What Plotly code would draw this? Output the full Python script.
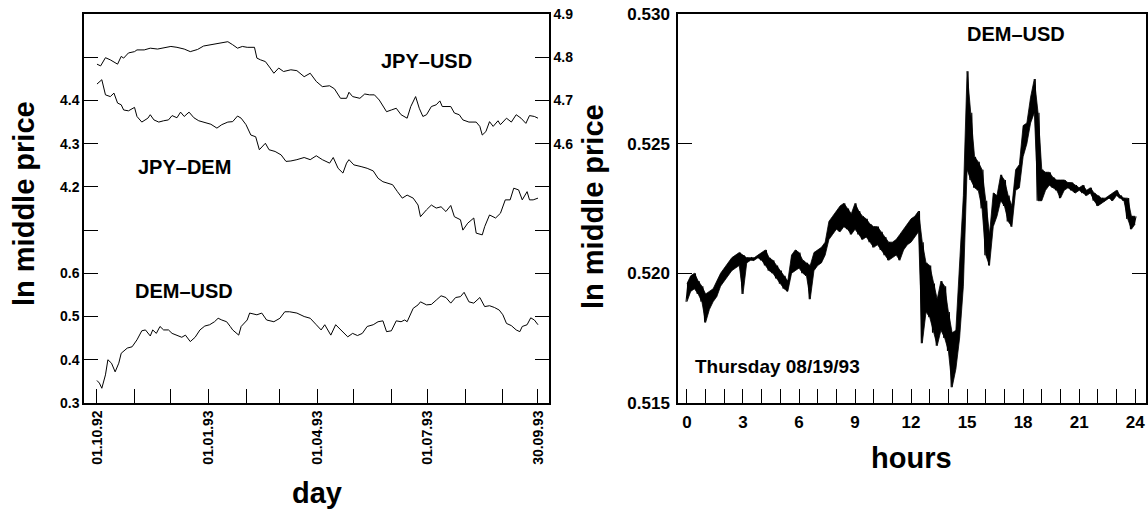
import plotly.graph_objects as go
import pandas as pd

# ---------------- Left panel data (daily series, sampled) ----------------
# days since 01.10.1992
usd_days = [0, 3, 7, 11, 17, 20, 22, 26, 31, 33, 39, 44, 50, 55, 61, 66, 72, 77, 83, 88, 94, 99,
            105, 108, 112, 116, 120, 124, 130, 132, 135, 139, 143, 146, 150, 154, 160, 165, 171,
            176, 181, 186, 192, 196, 201, 206, 208, 211, 217, 221, 225, 229, 233, 239, 243, 247,
            251, 256, 259, 263, 266, 269, 272, 276, 280, 283, 285, 289, 292, 295, 299, 302, 307,
            313, 316, 318, 321, 324, 327, 331, 333, 338, 342, 346, 350, 354, 357, 361, 364]
jpy_usd = [4.784, 4.780, 4.799, 4.794, 4.784, 4.802, 4.798, 4.810, 4.813, 4.817, 4.817, 4.821,
           4.819, 4.822, 4.825, 4.823, 4.819, 4.813, 4.818, 4.826, 4.829, 4.831, 4.835, 4.836,
           4.829, 4.821, 4.825, 4.823, 4.823, 4.798, 4.794, 4.790, 4.775, 4.763, 4.775, 4.767,
           4.771, 4.769, 4.755, 4.763, 4.744, 4.732, 4.734, 4.727, 4.705, 4.705, 4.719, 4.709,
           4.705, 4.715, 4.713, 4.713, 4.701, 4.674, 4.678, 4.682, 4.667, 4.659, 4.686, 4.709,
           4.682, 4.663, 4.667, 4.686, 4.690, 4.699, 4.686, 4.686, 4.686, 4.671, 4.667, 4.655,
           4.650, 4.650, 4.640, 4.620, 4.628, 4.651, 4.640, 4.653, 4.644, 4.659, 4.650, 4.667,
           4.659, 4.647, 4.665, 4.663, 4.659]

dem_days = [0, 4, 7, 11, 14, 17, 20, 22, 26, 31, 33, 37, 42, 44, 47, 51, 55, 59, 62, 66, 69, 72,
            76, 80, 84, 88, 94, 99, 103, 108, 112, 116, 119, 123, 127, 131, 134, 139, 142, 147,
            152, 156, 160, 165, 171, 176, 181, 186, 192, 195, 199, 203, 206, 208, 212, 218, 223,
            228, 232, 236, 240, 244, 248, 252, 256, 261, 265, 267, 272, 276, 280, 284, 288, 292,
            295, 300, 302, 306, 311, 313, 318, 320, 324, 329, 333, 337, 341, 344, 348, 351, 355,
            357, 360, 364]
jpy_dem = [4.438, 4.448, 4.413, 4.409, 4.417, 4.394, 4.390, 4.378, 4.376, 4.384, 4.363, 4.350,
           4.359, 4.367, 4.355, 4.350, 4.353, 4.355, 4.365, 4.360, 4.373, 4.363, 4.373, 4.360,
           4.353, 4.350, 4.345, 4.336, 4.344, 4.350, 4.351, 4.364, 4.359, 4.344, 4.320, 4.316,
           4.286, 4.301, 4.286, 4.282, 4.274, 4.259, 4.260, 4.263, 4.268, 4.263, 4.272, 4.263,
           4.255, 4.268, 4.243, 4.232, 4.255, 4.263, 4.251, 4.247, 4.243, 4.237, 4.220, 4.212,
           4.209, 4.205, 4.189, 4.174, 4.181, 4.174, 4.158, 4.131, 4.147, 4.158, 4.151, 4.154,
           4.143, 4.157, 4.131, 4.124, 4.100, 4.116, 4.128, 4.093, 4.089, 4.108, 4.135, 4.128,
           4.139, 4.170, 4.170, 4.197, 4.193, 4.170, 4.189, 4.170, 4.170, 4.174]

dm_days = [0, 2, 4, 7, 9, 12, 15, 18, 20, 25, 29, 33, 37, 40, 44, 46, 49, 52, 55, 59, 62, 66, 70,
           73, 77, 81, 85, 89, 93, 97, 100, 103, 107, 110, 112, 117, 119, 124, 126, 132, 136, 140,
           146, 151, 155, 159, 165, 171, 176, 181, 185, 188, 193, 197, 201, 207, 211, 215, 219,
           223, 228, 232, 236, 239, 243, 247, 251, 254, 256, 261, 265, 267, 272, 276, 280, 284,
           288, 292, 296, 300, 303, 307, 311, 316, 320, 324, 328, 332, 335, 338, 342, 346, 349,
           351, 355, 358, 361, 364]
dem_usd = [0.352, 0.346, 0.334, 0.365, 0.400, 0.392, 0.372, 0.392, 0.415, 0.427, 0.430, 0.446,
           0.467, 0.469, 0.455, 0.469, 0.461, 0.477, 0.469, 0.469, 0.461, 0.457, 0.452, 0.457,
           0.442, 0.452, 0.469, 0.478, 0.481, 0.488, 0.496, 0.492, 0.488, 0.477, 0.469, 0.457,
           0.477, 0.492, 0.508, 0.504, 0.508, 0.492, 0.488, 0.496, 0.511, 0.511, 0.508, 0.500,
           0.496, 0.481, 0.469, 0.481, 0.457, 0.481, 0.469, 0.453, 0.461, 0.456, 0.461, 0.477,
           0.481, 0.488, 0.490, 0.465, 0.467, 0.490, 0.488, 0.492, 0.488, 0.519, 0.527, 0.534,
           0.527, 0.528, 0.538, 0.548, 0.544, 0.531, 0.544, 0.546, 0.556, 0.534, 0.531, 0.544,
           0.523, 0.525, 0.521, 0.515, 0.504, 0.484, 0.479, 0.469, 0.465, 0.477, 0.481, 0.497,
           0.492, 0.481]

JPY_DEM_SHIFT = 3.4  # JPY-DEM drawn on the shared left scale, labelled 4.2..4.4

left_tick_dates = ["1992-10-01", "1992-11-01", "1992-12-01", "1993-01-01", "1993-02-01",
                   "1993-03-01", "1993-04-01", "1993-05-01", "1993-06-01", "1993-07-01",
                   "1993-08-01", "1993-09-01", "1993-09-30"]
left_tick_text = ["01.10.92", "", "", "01.01.93", "", "", "01.04.93", "", "", "01.07.93",
                  "", "", "30.09.93"]
left_y_vals = [0.3, 0.4, 0.5, 0.6, 0.7, 0.8, 0.9, 1.0, 1.1]
left_y_text = ["0.3", "0.4", "0.5", "0.6", "", "4.2", "4.3", "4.4", ""]
right_y_vals = [4.1, 4.2, 4.3, 4.4, 4.5, 4.6, 4.7, 4.8, 4.9]
right_y_text = ["", "", "", "", "", "4.6", "4.7", "4.8", "4.9"]

# ---------------- Right panel data (intraday band: low / high per knot) ----------------
hours = [0.0, 0.2, 0.4, 0.6, 0.8, 1.0, 1.2, 1.4, 1.6, 1.8, 2.0, 2.2, 2.4, 2.6, 2.8, 3.0, 3.2, 3.4,
         3.6, 3.8, 4.0, 4.2, 4.4, 4.6, 4.8, 5.0, 5.2, 5.4, 5.6, 5.8, 6.0, 6.2, 6.4, 6.6, 6.8, 7.0,
         7.2, 7.4, 7.6, 7.8, 8.0, 8.2, 8.4, 8.6, 8.8, 9.0, 9.2, 9.4, 9.6, 9.8, 10.0, 10.2, 10.4,
         10.6, 10.8, 11.0, 11.2, 11.4, 11.6, 11.8, 12.0, 12.2, 12.4, 12.6, 12.8, 13.0, 13.2, 13.4,
         13.6, 13.8, 14.0, 14.2, 14.4, 14.6, 14.8, 15.0, 15.2, 15.4, 15.6, 15.8, 16.0, 16.2, 16.4,
         16.6, 16.8, 17.0, 17.2, 17.4, 17.6, 17.8, 18.0, 18.2, 18.4, 18.6, 18.8, 19.0, 19.2, 19.4,
         19.6, 19.8, 20.0, 20.2, 20.4, 20.6, 20.8, 21.0, 21.2, 21.4, 21.6, 21.8, 22.0, 22.2, 22.4,
         22.6, 22.8, 23.0, 23.2, 23.4, 23.6, 23.8, 24.0]
price_low = [0.5189, 0.5193, 0.5194, 0.5192, 0.5189, 0.5181, 0.5186, 0.5189, 0.5191, 0.5195,
             0.5197, 0.5199, 0.5201, 0.5202, 0.5203, 0.5192, 0.5204, 0.5205, 0.5205, 0.5206,
             0.5205, 0.5203, 0.5201, 0.5200, 0.5198, 0.5196, 0.5194, 0.5193, 0.5200, 0.5201,
             0.5202, 0.5200, 0.5199, 0.5190, 0.5201, 0.5203, 0.5204, 0.5207, 0.5213, 0.5215,
             0.5217, 0.5216, 0.5218, 0.5217, 0.5215, 0.5217, 0.5215, 0.5213, 0.5214, 0.5212,
             0.5210, 0.5211, 0.5209, 0.5207, 0.5205, 0.5206, 0.5207, 0.5205, 0.5209, 0.5211,
             0.5212, 0.5214, 0.5216, 0.5173, 0.5185, 0.5183, 0.5177, 0.5172, 0.5178, 0.5175,
             0.5170, 0.5156, 0.5163, 0.5175, 0.5195, 0.5240, 0.5236, 0.5233, 0.5232, 0.5225,
             0.5207, 0.5203, 0.5218, 0.5222, 0.5228, 0.5226, 0.5220, 0.5218, 0.5232, 0.5233,
             0.5245, 0.5250, 0.5258, 0.5262, 0.5228, 0.5228, 0.5232, 0.5234, 0.5233, 0.5232,
             0.5229, 0.5232, 0.5233, 0.5232, 0.5231, 0.5232, 0.5231, 0.5230, 0.5231, 0.5228,
             0.5226, 0.5227, 0.5228, 0.5229, 0.5228, 0.5230, 0.5229, 0.5228, 0.5221, 0.5217,
             0.5219]
price_high = [0.5196, 0.5199, 0.5200, 0.5197, 0.5195, 0.5192, 0.5193, 0.5194, 0.5197, 0.5200,
              0.5202, 0.5204, 0.5206, 0.5207, 0.5208, 0.5207, 0.5206, 0.5206, 0.5206, 0.5207,
              0.5208, 0.5209, 0.5206, 0.5205, 0.5203, 0.5201, 0.5199, 0.5197, 0.5207, 0.5209,
              0.5208, 0.5205, 0.5204, 0.5203, 0.5208, 0.5209, 0.5210, 0.5212, 0.5220, 0.5222,
              0.5224, 0.5226, 0.5227, 0.5225, 0.5223, 0.5227, 0.5224, 0.5222, 0.5221, 0.5219,
              0.5218, 0.5218, 0.5216, 0.5214, 0.5212, 0.5212, 0.5213, 0.5215, 0.5217, 0.5219,
              0.5221, 0.5222, 0.5224, 0.5212, 0.5204, 0.5203, 0.5196, 0.5190, 0.5197, 0.5195,
              0.5185, 0.5177, 0.5178, 0.5205, 0.5230, 0.5278, 0.5262, 0.5245, 0.5243, 0.5240,
              0.5228, 0.5215, 0.5231, 0.5230, 0.5238, 0.5236, 0.5230, 0.5226, 0.5240, 0.5242,
              0.5257, 0.5258, 0.5268, 0.5275, 0.5262, 0.5240, 0.5239, 0.5239, 0.5237, 0.5236,
              0.5236, 0.5236, 0.5235, 0.5235, 0.5234, 0.5233, 0.5234, 0.5232, 0.5233, 0.5231,
              0.5230, 0.5229, 0.5229, 0.5230, 0.5231, 0.5232, 0.5230, 0.5229, 0.5229, 0.5222,
              0.5222]
hour_ticks = list(range(0, 25))
hour_text = [str(h) if h % 3 == 0 else "" for h in hour_ticks]
right_price_vals = [0.515, 0.520, 0.525, 0.530]
right_price_text = ["0.515", "0.520", "0.525", "0.530"]

# ---------------- Build figure ----------------
W, H = 1148, 512
FONT = "Liberation Sans, Arial, Helvetica, sans-serif"


def px_x(p):
    return p / W


def px_y(p):
    return 1 - p / H


base = pd.Timestamp("1992-10-01")
to_dates = lambda ds: [base + pd.Timedelta(days=d) for d in ds]

line = dict(color="black", width=1)
fig = go.Figure()
fig.add_trace(go.Scatter(x=to_dates(usd_days), y=jpy_usd, xaxis="x", yaxis="y2",
                         mode="lines", line=line, hoverinfo="skip"))
fig.add_trace(go.Scatter(x=to_dates(dem_days), y=[v - JPY_DEM_SHIFT for v in jpy_dem],
                         xaxis="x", yaxis="y", mode="lines", line=line, hoverinfo="skip"))
fig.add_trace(go.Scatter(x=to_dates(dm_days), y=dem_usd, xaxis="x", yaxis="y",
                         mode="lines", line=line, hoverinfo="skip"))

# intraday band: solid fill between the low and high edges ...
fig.add_trace(go.Scatter(x=hours, y=price_low, xaxis="x2", yaxis="y3", mode="lines",
                         line=dict(color="black", width=0.8), hoverinfo="skip"))
fig.add_trace(go.Scatter(x=hours, y=price_high, xaxis="x2", yaxis="y3", mode="lines",
                         line=dict(color="black", width=0.8), fill="tonexty",
                         fillcolor="black", hoverinfo="skip"))
# ... plus the tick-to-tick jumps that give the band its ragged edge
zig_x, zig_y = [], []
for h, lo, hi in zip(hours, price_low, price_high):
    zig_x += [h - 0.05, h + 0.05]
    zig_y += [lo, hi]
fig.add_trace(go.Scatter(x=zig_x, y=zig_y, xaxis="x2", yaxis="y3", mode="lines",
                         line=dict(color="black", width=1.1), hoverinfo="skip"))

axis_common = dict(showgrid=False, zeroline=False, showline=True, linecolor="black",
                   linewidth=1.5, ticks="inside", ticklen=14, tickwidth=1.2,
                   tickcolor="black", automargin=False)
left_font = dict(family=FONT, size=14, color="black", weight="bold")
right_font = dict(family=FONT, size=17, color="black", weight="bold")

ydom = [px_y(403), px_y(14)]
fig.update_layout(
    width=W, height=H, margin=dict(l=0, r=0, t=0, b=0, autoexpand=False),
    paper_bgcolor="white", plot_bgcolor="white", showlegend=False,
    xaxis=dict(domain=[px_x(84), px_x(549)], anchor="y", type="date",
               range=["1992-09-20 07:00", "1993-10-09 02:00"],
               tickmode="array", tickvals=left_tick_dates, ticktext=left_tick_text,
               tickangle=-90, tickfont=left_font, mirror=True, **axis_common),
    yaxis=dict(domain=ydom, anchor="x", range=[0.2999, 1.2001], tickmode="array",
               tickvals=left_y_vals, ticktext=left_y_text, tickfont=left_font,
               **axis_common),
    yaxis2=dict(overlaying="y", anchor="x", side="right", range=[3.9999, 4.9001],
                tickmode="array", tickvals=right_y_vals, ticktext=right_y_text,
                tickfont=left_font, **axis_common),
    xaxis2=dict(domain=[px_x(678), px_x(1146)], anchor="y3", range=[-0.48, 24.58],
                tickmode="array", tickvals=hour_ticks, ticktext=hour_text,
                tickfont=right_font, mirror=True, ticklabelstandoff=3, **axis_common),
    yaxis3=dict(domain=ydom, anchor="x2", range=[0.51499, 0.53001], tickmode="array",
                tickvals=right_price_vals, ticktext=right_price_text,
                tickfont=right_font, mirror="ticks", ticklabelstandoff=3, **axis_common),
)


def label(text, x, y, size, angle=0):
    fig.add_annotation(text="<b>%s</b>" % text, x=px_x(x), y=px_y(y), xref="paper",
                       yref="paper", showarrow=False, textangle=angle,
                       xanchor="center", yanchor="middle",
                       font=dict(family=FONT, size=size, color="black"))


label("JPY\u2013USD", 426, 61, 20)
label("JPY\u2013DEM", 184, 167, 20)
label("DEM\u2013USD", 184, 291, 20)
label("DEM\u2013USD", 1016, 34, 20)
label("Thursday 08/19/93", 777, 366, 19)
label("ln middle price", 24, 204, 29, -90)
label("ln middle price", 593, 207, 29, -90)
label("day", 317, 493, 29)
label("hours", 911, 458, 29)

fig.write_html("out.html")
